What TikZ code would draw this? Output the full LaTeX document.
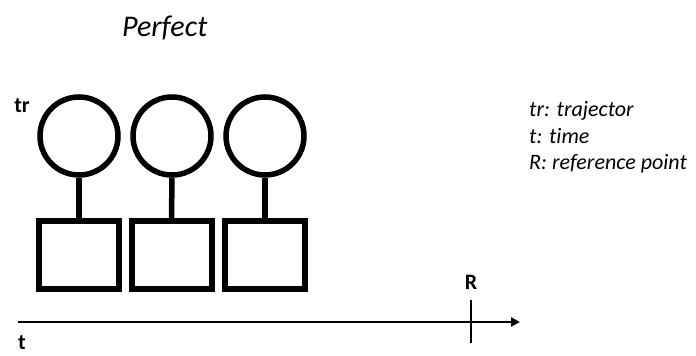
\documentclass[tikz,border=0pt]{standalone}
\usepackage{fontspec}
\setmainfont{Carlito}[Ligatures=NoCommon]
\usetikzlibrary{arrows.meta}
\begin{document}
\begin{tikzpicture}[x=1pt,y=-1pt,
  ball/.style={draw,circle,line width=5.5pt,minimum size=78pt,inner sep=0pt},
  box/.style={draw,rectangle,line width=6pt,minimum width=80pt,minimum height=68pt,inner sep=0pt},
  stem/.style={line width=5.5pt},
  lbl/.style={font=\fontsize{22}{26}\selectfont\bfseries,inner sep=0pt},
  legend/.style={font=\fontsize{22}{26}\selectfont\itshape,inner sep=0pt,anchor=base west}]
\useasboundingbox (0,0) rectangle (696,356);
\node[font=\fontsize{30}{36}\selectfont\itshape,inner sep=0pt,anchor=base west] (title) at (122,36) {Perfect};
\node[ball] (c1) at (79,136) {};
\node[ball] (c2) at (172,136) {};
\node[ball] (c3) at (265,136) {};
\node[box] (s1) at (79,255) {};
\node[box] (s2) at (171.5,255) {};
\node[box] (s3) at (265,255) {};
\draw[stem] (c1.south) -- (s1.north);
\draw[stem] (c2.south) -- (s2.north);
\draw[stem] (c3.south) -- (s3.north);
\node[lbl,anchor=base] (tr) at (22,112) {tr};
\node[lbl,anchor=base] (t) at (22,349) {t};
\node[lbl,anchor=base] (R) at (471,289) {R};
\coordinate (a0) at (18,322);
\coordinate (a1) at (520,322);
\coordinate (r0) at (471,300);
\coordinate (r1) at (471,343);
\draw[line width=2pt,-{Triangle[length=9pt,width=9pt]}] (a0) -- (a1);
\draw[line width=2pt] (r0) -- (r1);
\node[legend] (l1) at (529,116) {tr: trajector};
\node[legend] (l2) at (529,143) {t: time};
\node[legend] (l3) at (529,169) {R: reference point};
\end{tikzpicture}
\end{document}
